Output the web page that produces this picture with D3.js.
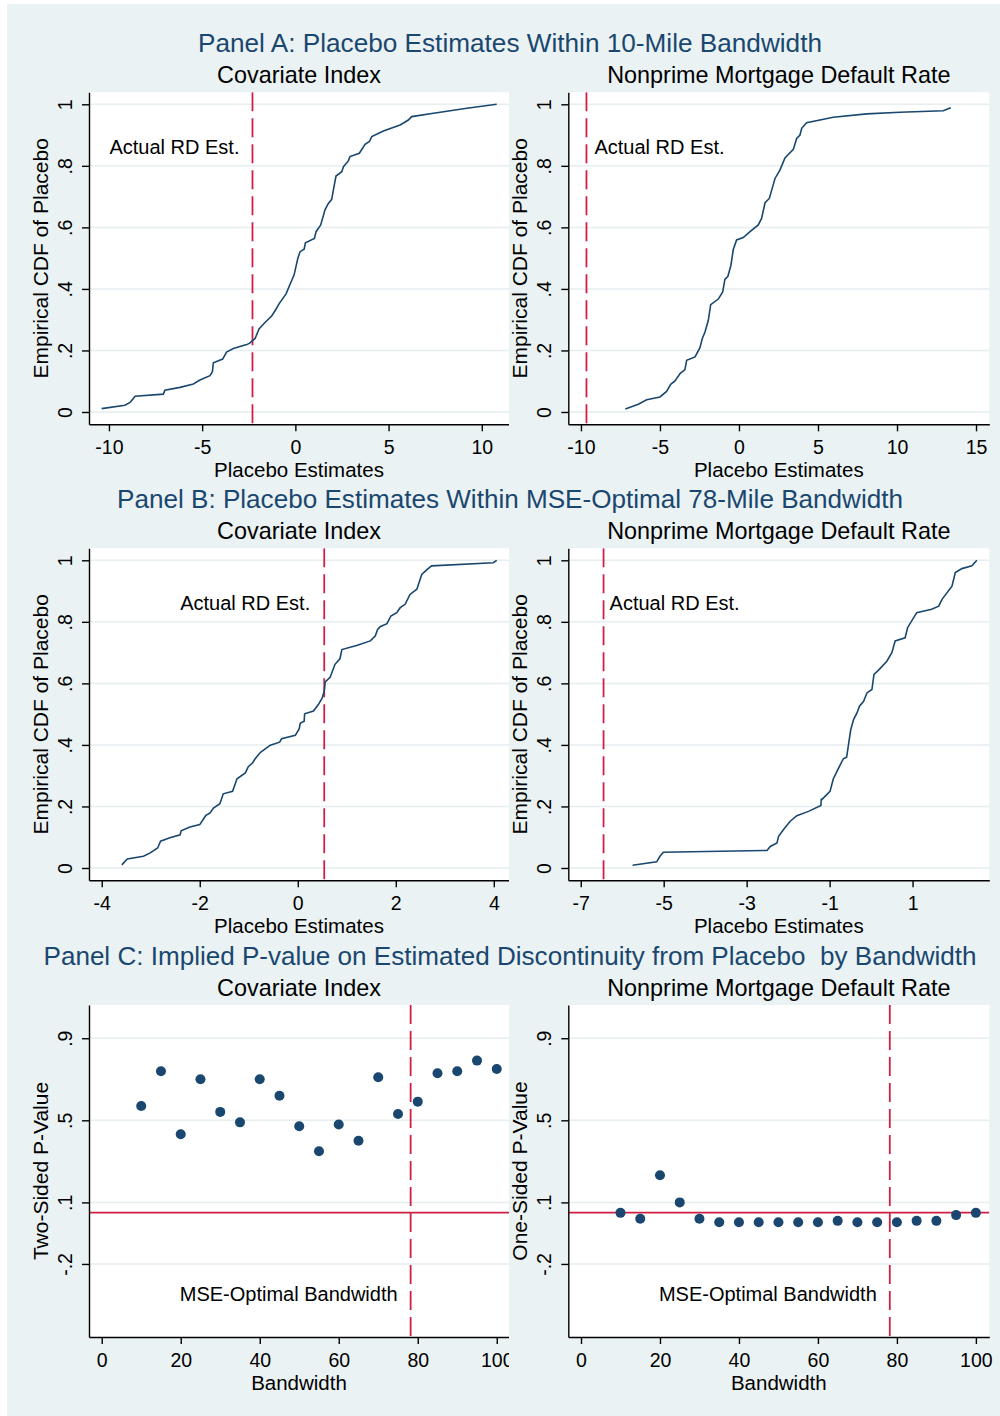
<!DOCTYPE html>
<html>
<head>
<meta charset="utf-8">
<script src="https://cdn.jsdelivr.net/npm/d3@7"></script>
<style>
  body { margin: 0; background: #ffffff; }
  text { font-family: "Liberation Sans", Arial, Helvetica, sans-serif; }
</style>
</head>
<body>
<svg id="chart" width="1000" height="1416"></svg>
<script>
// ---------- Data ----------
// Empirical CDFs of placebo RD estimates: [placebo estimate, cumulative share]
const covIndex10Mile = [
  [-10.39,0.011],[-9.14,0.022],[-8.87,0.031],[-8.73,0.041],[-8.6,0.051],[-7.08,0.058],[-7.0,0.071],
  [-6.19,0.08],[-5.47,0.091],[-5.12,0.104],[-4.58,0.118],[-4.45,0.131],[-4.4,0.16],[-3.9,0.172],
  [-3.69,0.195],[-3.33,0.206],[-2.61,0.219],[-2.47,0.223],[-2.16,0.239],[-1.95,0.27],[-1.63,0.291],
  [-1.27,0.312],[-1.04,0.334],[-0.86,0.353],[-0.5,0.384],[-0.25,0.42],[-0.07,0.445],[0.13,0.499],
  [0.25,0.521],[0.47,0.529],[0.54,0.55],[1.02,0.564],[1.11,0.586],[1.36,0.608],[1.59,0.657],
  [1.77,0.678],[1.95,0.691],[2.04,0.722],[2.18,0.767],[2.49,0.781],[2.58,0.797],[2.84,0.816],
  [2.93,0.83],[3.43,0.841],[3.74,0.87],[3.97,0.879],[4.1,0.895],[4.72,0.913],[5.62,0.933],
  [6.06,0.949],[6.24,0.96],[7.41,0.971],[9.2,0.987],[10.8,1.0]
];
const nonprime10Mile = [
  [-7.19,0.01],[-6.37,0.025],[-5.84,0.04],[-5.0,0.049],[-4.58,0.067],[-4.32,0.09],[-4.05,0.101],
  [-3.73,0.125],[-3.42,0.138],[-3.31,0.168],[-2.78,0.179],[-2.47,0.209],[-2.32,0.239],[-2.15,0.26],
  [-1.94,0.298],[-1.79,0.349],[-1.31,0.367],[-1.03,0.39],[-0.89,0.431],[-0.7,0.441],[-0.51,0.477],
  [-0.36,0.528],[-0.15,0.559],[0.27,0.567],[0.7,0.586],[1.22,0.608],[1.43,0.629],[1.65,0.68],
  [1.92,0.694],[2.07,0.721],[2.28,0.759],[2.59,0.786],[2.91,0.826],[3.44,0.854],[3.65,0.889],
  [3.86,0.9],[3.97,0.922],[4.28,0.94],[5.97,0.958],[8.08,0.969],[10.19,0.974],[12.93,0.979],[13.4,0.989]
];
const covIndex78Mile = [
  [-3.59,0.01],[-3.48,0.029],[-3.15,0.038],[-3.01,0.049],[-2.86,0.065],[-2.8,0.087],[-2.61,0.098],
  [-2.4,0.108],[-2.38,0.121],[-2.2,0.133],[-2.0,0.141],[-1.88,0.17],[-1.79,0.179],[-1.72,0.195],
  [-1.59,0.209],[-1.52,0.241],[-1.33,0.249],[-1.24,0.29],[-1.07,0.309],[-1.01,0.329],[-0.92,0.342],
  [-0.87,0.355],[-0.76,0.376],[-0.56,0.399],[-0.37,0.409],[-0.33,0.42],[-0.05,0.431],[0.03,0.453],
  [0.05,0.47],[0.13,0.477],[0.14,0.501],[0.32,0.51],[0.42,0.531],[0.5,0.553],[0.54,0.575],
  [0.56,0.605],[0.66,0.62],[0.76,0.662],[0.86,0.68],[0.9,0.71],[1.2,0.723],[1.48,0.738],
  [1.58,0.754],[1.63,0.775],[1.68,0.784],[1.82,0.794],[1.9,0.819],[2.02,0.83],[2.09,0.846],
  [2.19,0.857],[2.29,0.889],[2.43,0.906],[2.53,0.954],[2.63,0.969],[2.73,0.982],[3.99,0.992],[4.06,1.0]
];
const nonprime78Mile = [
  [-5.75,0.009],[-5.17,0.02],[-5.09,0.038],[-5.01,0.051],[-2.51,0.057],[-2.43,0.07],[-2.27,0.081],
  [-2.23,0.103],[-2.11,0.125],[-1.95,0.152],[-1.79,0.17],[-1.51,0.184],[-1.21,0.203],[-1.2,0.226],
  [-1.19,0.222],[-0.99,0.249],[-0.91,0.29],[-0.84,0.309],[-0.76,0.331],[-0.67,0.355],[-0.59,0.36],
  [-0.55,0.396],[-0.49,0.45],[-0.42,0.483],[-0.34,0.504],[-0.28,0.526],[-0.18,0.542],[-0.1,0.569],
  [0.02,0.58],[0.07,0.629],[0.18,0.643],[0.38,0.672],[0.5,0.7],[0.58,0.738],[0.82,0.748],
  [0.88,0.781],[1.1,0.83],[1.46,0.841],[1.63,0.851],[1.71,0.873],[1.95,0.916],[2.03,0.96],
  [2.19,0.973],[2.43,0.982],[2.55,1.0]
];

// Actual RD estimates (vertical reference lines)
const actualRD = { cov10: -2.3, non10: -9.65, cov78: 0.54, non78: -6.45 };

// Placebo p-values by bandwidth (miles)
const bandwidths = [10,15,20,25,30,35,40,45,50,55,60,65,70,75,80,85,90,95,100];
const pTwoSidedCov = [0.57,0.739,0.432,0.70,0.541,0.49,0.70,0.62,0.471,0.349,0.48,0.40,0.71,0.531,0.591,0.729,0.739,0.791,0.75];
const pOneSidedNonprime = [0.049,0.02,0.232,0.10,0.02,0.003,0.003,0.003,0.003,0.003,0.003,0.01,0.003,0.003,0.003,0.01,0.01,0.038,0.049];
const optimalBandwidth = 78.2;
const pThreshold = 0.05;

// Tick labels
const ticksCovA = [-10,-5,0,5,10];
const ticksNonA = [-10,-5,0,5,10,15];
const ticksCovB = [-4,-2,0,2,4];
const ticksNonB = [-7,-5,-3,-1,1];
const ticksBandwidth = [0,20,40,60,80,100];
const ticksCdf = [0,0.2,0.4,0.6,0.8,1];
const ticksP = [-0.2,0.1,0.5,0.9];

// ---------- Layout & style ----------
const W = 1000, H = 1416;
const BG = "#eaf2f3", NAVY = "#1a476f", RED = "#cf1f45", GRID = "#e6eef0";
const colX = [[89, 509], [568.3, 989.3]];
const rowTop = [92.3, 548.3, 1005];
const plotH = 332;

const svg = d3.select("#chart");
svg.append("rect").attr("x", 7).attr("y", 4).attr("width", W - 7).attr("height", H - 4).attr("fill", BG);

// Stata-style number labels: ".2", "-.2"
const fmt = v => String(+v.toFixed(3)).replace(/^(-?)0\./, "$1.");

const rows = [
  {
    title: "Panel A: Placebo Estimates Within 10-Mile Bandwidth", titleLen: 624,
    panels: [
      { sub: "Covariate Index", kind: "cdf", data: covIndex10Mile, xDom: [-11.07, 11.46], xTicks: ticksCovA,
        ref: actualRD.cov10, label: "Actual RD Est.", side: "end", gap: 13 },
      { sub: "Nonprime Mortgage Default Rate", kind: "cdf", data: nonprime10Mile, xDom: [-10.8, 15.84], xTicks: ticksNonA,
        ref: actualRD.non10, label: "Actual RD Est.", side: "start", gap: 8 }
    ]
  },
  {
    title: "Panel B: Placebo Estimates Within MSE-Optimal 78-Mile Bandwidth", titleLen: 786,
    panels: [
      { sub: "Covariate Index", kind: "cdf", data: covIndex78Mile, xDom: [-4.26, 4.31], xTicks: ticksCovB,
        ref: actualRD.cov78, label: "Actual RD Est.", side: "end", gap: 14 },
      { sub: "Nonprime Mortgage Default Rate", kind: "cdf", data: nonprime78Mile, xDom: [-7.3, 2.85], xTicks: ticksNonB,
        ref: actualRD.non78, label: "Actual RD Est.", side: "start", gap: 6 }
    ]
  },
  {
    title: "Panel C: Implied P-value on Estimated Discontinuity from Placebo  by Bandwidth", titleLen: 933,
    panels: [
      { sub: "Covariate Index", kind: "p", values: pTwoSidedCov, yTitle: "Two-Sided P-Value",
        xDom: [-3.22, 103.1], xTicks: ticksBandwidth },
      { sub: "Nonprime Mortgage Default Rate", kind: "p", values: pOneSidedNonprime, yTitle: "One-Sided P-Value",
        xDom: [-3.22, 103.4], xTicks: ticksBandwidth }
    ]
  }
];

function drawPanel(g, p, x0, x1, top) {
  const bottom = top + plotH;
  const isCdf = p.kind === "cdf";
  const x = d3.scaleLinear().domain(p.xDom).range([x0, x1]);
  const y = isCdf
    ? d3.scaleLinear().domain([-0.04, 1.039]).range([bottom, top])
    : d3.scaleLinear().domain([-0.556, 1.062]).range([bottom, top]);
  const yTicks = isCdf ? ticksCdf : ticksP;

  // plot region
  g.append("rect").attr("x", x0).attr("y", top).attr("width", x1 - x0).attr("height", plotH).attr("fill", "#ffffff");

  // horizontal gridlines
  g.append("g").selectAll("line").data(yTicks).join("line")
    .attr("x1", x0).attr("x2", x1).attr("y1", d => y(d)).attr("y2", d => y(d))
    .attr("stroke", GRID).attr("stroke-width", 1.5);

  const clipId = "clip" + Math.round(x0) + "_" + Math.round(top);
  g.append("clipPath").attr("id", clipId).append("rect")
    .attr("x", x0).attr("y", top).attr("width", x1 - x0).attr("height", plotH);
  const plot = g.append("g").attr("clip-path", `url(#${clipId})`);

  // subtitle
  g.append("text").attr("x", (x0 + x1) / 2).attr("y", top - 9).attr("text-anchor", "middle")
    .attr("font-size", 23.4).attr("fill", "#000").text(p.sub);

  if (isCdf) {
    // vertical line at actual RD estimate
    plot.append("line").attr("x1", x(p.ref)).attr("x2", x(p.ref)).attr("y1", top).attr("y2", bottom)
      .attr("stroke", RED).attr("stroke-width", 1.8).attr("stroke-dasharray", "19,7");
    const lx = x(p.ref) + (p.side === "end" ? -p.gap : p.gap);
    g.append("text").attr("x", lx).attr("y", y(0.84)).attr("text-anchor", p.side)
      .attr("font-size", 20).attr("fill", "#000").text(p.label);
    // empirical CDF line
    plot.append("path").datum(p.data)
      .attr("d", d3.line().x(d => x(d[0])).y(d => y(d[1])))
      .attr("fill", "none").attr("stroke", NAVY).attr("stroke-width", 1.6);
  } else {
    // p = .05 threshold and optimal bandwidth marker
    plot.append("line").attr("x1", x0).attr("x2", x1).attr("y1", y(pThreshold)).attr("y2", y(pThreshold))
      .attr("stroke", RED).attr("stroke-width", 1.6);
    plot.append("line").attr("x1", x(optimalBandwidth)).attr("x2", x(optimalBandwidth)).attr("y1", top).attr("y2", bottom)
      .attr("stroke", RED).attr("stroke-width", 1.8).attr("stroke-dasharray", "19,7");
    g.append("text").attr("x", x(optimalBandwidth) - 13).attr("y", y(-0.381)).attr("text-anchor", "end")
      .attr("font-size", 20).attr("fill", "#000").text("MSE-Optimal Bandwidth");
    plot.append("g").selectAll("circle").data(bandwidths).join("circle")
      .attr("cx", d => x(d)).attr("cy", (d, i) => y(p.values[i])).attr("r", 5).attr("fill", NAVY);
  }

  // axes
  const xAxis = g.append("g").attr("transform", `translate(0,${bottom})`)
    .call(d3.axisBottom(x).tickValues(p.xTicks).tickFormat(fmt).tickSize(7).tickSizeOuter(0));
  const yAxis = g.append("g").attr("transform", `translate(${x0},0)`)
    .call(d3.axisLeft(y).tickValues(yTicks).tickFormat(fmt).tickSize(7).tickSizeOuter(0));
  [xAxis, yAxis].forEach(a => {
    a.attr("font-family", null).attr("font-size", null);
    a.select(".domain").attr("stroke", "#000").attr("stroke-width", 1.4);
    a.selectAll(".tick line").attr("stroke", "#000").attr("stroke-width", 1.4);
    a.selectAll(".tick text").attr("fill", "#000").attr("font-size", 19.5);
  });
  xAxis.selectAll(".tick text").attr("y", 29.5).attr("dy", null);
  yAxis.selectAll(".tick text").attr("x", null).attr("dy", null).attr("text-anchor", "middle")
    .attr("transform", "translate(-17,0) rotate(-90)");

  // axis titles
  g.append("text").attr("x", (x0 + x1) / 2).attr("y", bottom + 52.5).attr("text-anchor", "middle")
    .attr("font-size", 20.5).attr("fill", "#000").text(isCdf ? "Placebo Estimates" : "Bandwidth");
  g.append("text").attr("transform", `translate(${x0 - 41},${top + plotH / 2}) rotate(-90)`)
    .attr("text-anchor", "middle").attr("font-size", 21).attr("fill", "#000")
    .text(isCdf ? "Empirical CDF of Placebo" : p.yTitle);
}

rows.forEach((row, r) => {
  const top = rowTop[r];
  const rowG = svg.append("g");
  // left graph
  drawPanel(rowG.append("g"), row.panels[0], colX[0][0], colX[0][1], top);
  // right graph sits on its own background, overlapping the left graph's margin
  const rg = rowG.append("g");
  rg.append("rect").attr("x", 509).attr("y", top - 36).attr("width", W - 509).attr("height", plotH + 96).attr("fill", BG);
  drawPanel(rg, row.panels[1], colX[1][0], colX[1][1], top);
  // row title
  rowG.append("text").attr("x", 510).attr("y", top - 40).attr("text-anchor", "middle")
    .attr("font-size", 25).attr("fill", NAVY)
    .attr("textLength", row.titleLen).attr("lengthAdjust", "spacingAndGlyphs")
    .style("white-space", "pre").text(row.title);
});
</script>
</body>
</html>
